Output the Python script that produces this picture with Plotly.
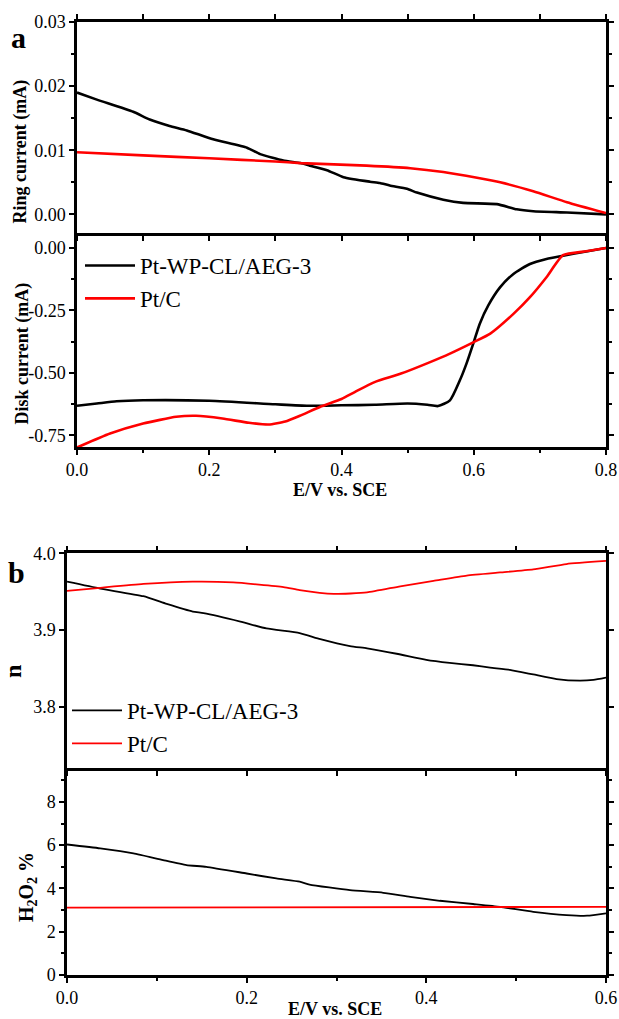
import plotly.graph_objects as go

# ---- panel a: ring current ----
ring_x_pt = [0, 0.03, 0.085, 0.11, 0.14, 0.166, 0.206, 0.257, 0.277, 0.312, 0.338, 0.352,
             0.378, 0.403, 0.443, 0.458, 0.473, 0.499, 0.514, 0.554, 0.584, 0.635, 0.665,
             0.69, 0.741, 0.8]
ring_y_pt = [0.0190, 0.0179, 0.0160, 0.0148, 0.0138, 0.0131, 0.0117, 0.0104, 0.0094, 0.0084,
             0.0080, 0.0076, 0.0069, 0.0058, 0.0051, 0.0049, 0.0045, 0.0040, 0.0034, 0.0023,
             0.0018, 0.0016, 0.0008, 0.0005, 0.0003, 0.0000]
ring_x_c = [0, 0.1, 0.2, 0.3, 0.338, 0.438, 0.504, 0.554, 0.605, 0.64, 0.69, 0.741, 0.8]
ring_y_c = [0.0097, 0.0092, 0.00875, 0.00825, 0.0080, 0.0076, 0.0072, 0.0066, 0.0057, 0.0050,
            0.0036, 0.0019, 0.0002]

# ---- panel a: disk current ----
disk_x_pt = [0, 0.03, 0.06, 0.1, 0.2, 0.3, 0.35, 0.4, 0.45, 0.5, 0.53, 0.546, 0.564, 0.579,
             0.589, 0.600, 0.609, 0.622, 0.640, 0.660, 0.685, 0.710, 0.735, 0.77, 0.8]
disk_y_pt = [-0.632, -0.623, -0.614, -0.610, -0.612, -0.626, -0.632, -0.630, -0.628, -0.623,
             -0.628, -0.633, -0.610, -0.530, -0.463, -0.377, -0.304, -0.230, -0.157, -0.104,
             -0.064, -0.044, -0.031, -0.014, 0.0]
disk_x_c = [0, 0.05, 0.1, 0.15, 0.18, 0.22, 0.26, 0.29, 0.315, 0.337, 0.368, 0.40, 0.42, 0.45,
            0.49, 0.534, 0.564, 0.600, 0.625, 0.660, 0.685, 0.710, 0.735, 0.77, 0.8]
disk_y_c = [-0.799, -0.743, -0.703, -0.676, -0.672, -0.683, -0.700, -0.707, -0.695, -0.672,
            -0.636, -0.605, -0.577, -0.537, -0.503, -0.457, -0.423, -0.377, -0.343, -0.264,
            -0.197, -0.117, -0.029, -0.013, 0.0]

# ---- panel b: electron transfer number ----
n_x_pt = [0, 0.037, 0.085, 0.111, 0.14, 0.152, 0.193, 0.222, 0.259, 0.282, 0.315, 0.334,
          0.367, 0.400, 0.426, 0.452, 0.471, 0.493, 0.519, 0.545, 0.571, 0.586, 0.6]
n_y_pt = [3.963, 3.954, 3.944, 3.934, 3.924, 3.922, 3.911, 3.902, 3.896, 3.888, 3.879, 3.876,
          3.869, 3.861, 3.857, 3.854, 3.851, 3.848, 3.842, 3.836, 3.834, 3.835, 3.838]
n_x_c = [0, 0.037, 0.085, 0.14, 0.185, 0.241, 0.259, 0.297, 0.334, 0.371, 0.408, 0.445,
         0.482, 0.519, 0.556, 0.6]
n_y_c = [3.951, 3.955, 3.960, 3.963, 3.962, 3.956, 3.952, 3.947, 3.949, 3.957, 3.964, 3.971,
         3.975, 3.979, 3.986, 3.990]

# ---- panel b: peroxide yield ----
h_x_pt = [0, 0.037, 0.074, 0.107, 0.133, 0.155, 0.2, 0.233, 0.259, 0.27, 0.315, 0.352, 0.382,
          0.415, 0.452, 0.482, 0.519, 0.556, 0.579, 0.6]
h_y_pt = [6.03, 5.85, 5.62, 5.31, 5.08, 5.0, 4.69, 4.46, 4.31, 4.18, 3.92, 3.80, 3.61, 3.43,
          3.28, 3.15, 2.92, 2.77, 2.74, 2.85]
h_x_c = [0, 0.2, 0.4, 0.6]
h_y_c = [3.11, 3.12, 3.13, 3.15]

# ---- tick positions / labels ----
tenths_a = [0, 0.1, 0.2, 0.3, 0.4, 0.5, 0.6, 0.7, 0.8]
tenths_b = [0, 0.1, 0.2, 0.3, 0.4, 0.5, 0.6]
ring_ticks = [0, 0.01, 0.02, 0.03]
ring_labels = ["0.00", "0.01", "0.02", "0.03"]
disk_ticks = [0, -0.25, -0.5, -0.75]
disk_labels = ["0.00", "-0.25", "-0.50", "-0.75"]
ea_ticks = [0, 0.2, 0.4, 0.6, 0.8]
ea_labels = ["0.0", "0.2", "0.4", "0.6", "0.8"]
n_ticks = [3.8, 3.9, 4.0]
n_labels = ["3.8", "3.9", "4.0"]
eb_ticks = [0, 0.2, 0.4, 0.6]
eb_labels = ["0.0", "0.2", "0.4", "0.6"]
h_ticks = [0, 2, 4, 6, 8]
h_labels = ["0", "2", "4", "6", "8"]

names = ["Pt-WP-CL/AEG-3", "Pt/C"]
colors = ["#000000", "#ff0000"]

W, H = 619, 1019
SERIF = "Liberation Serif"


def px(x):
    return x / W


def py(y):
    return 1 - y / H


fig = go.Figure()

fig.add_trace(go.Scatter(x=ring_x_pt, y=ring_y_pt, xaxis="x", yaxis="y", mode="lines",
                         line=dict(color=colors[0], width=2.6, shape="spline", smoothing=0.5),
                         showlegend=False))
fig.add_trace(go.Scatter(x=ring_x_c, y=ring_y_c, xaxis="x", yaxis="y", mode="lines",
                         line=dict(color=colors[1], width=2.6, shape="spline", smoothing=0.5),
                         showlegend=False))
fig.add_trace(go.Scatter(x=disk_x_pt, y=disk_y_pt, xaxis="x2", yaxis="y2", mode="lines",
                         name=names[0], legend="legend",
                         line=dict(color=colors[0], width=2.6, shape="spline", smoothing=0.6)))
fig.add_trace(go.Scatter(x=disk_x_c, y=disk_y_c, xaxis="x2", yaxis="y2", mode="lines",
                         name=names[1], legend="legend",
                         line=dict(color=colors[1], width=2.6, shape="spline", smoothing=0.5)))
fig.add_trace(go.Scatter(x=n_x_pt, y=n_y_pt, xaxis="x3", yaxis="y3", mode="lines",
                         name=names[0], legend="legend2",
                         line=dict(color=colors[0], width=1.8, shape="spline", smoothing=0.5)))
fig.add_trace(go.Scatter(x=n_x_c, y=n_y_c, xaxis="x3", yaxis="y3", mode="lines",
                         name=names[1], legend="legend2",
                         line=dict(color=colors[1], width=1.8, shape="spline", smoothing=0.5)))
fig.add_trace(go.Scatter(x=h_x_pt, y=h_y_pt, xaxis="x4", yaxis="y4", mode="lines",
                         showlegend=False,
                         line=dict(color=colors[0], width=1.8, shape="spline", smoothing=0.5)))
fig.add_trace(go.Scatter(x=h_x_c, y=h_y_c, xaxis="x4", yaxis="y4", mode="lines",
                         showlegend=False,
                         line=dict(color=colors[1], width=1.8)))

minor = dict(ticks="outside", ticklen=3, tickwidth=2, tickcolor="black", showgrid=False)


def axis(**kw):
    base = dict(showline=True, linecolor="black", linewidth=2.5, mirror="allticks",
                ticks="outside", ticklen=5, tickwidth=2, tickcolor="black",
                showgrid=False, zeroline=False, automargin=False,
                tickfont=dict(family=SERIF, size=18, color="black"))
    base.update(kw)
    return base


xa_dom = [px(77), px(606)]
xb_dom = [px(67), px(606)]

# the lower box of each panel shares its top edge with the upper box's bottom
# frame line, so its own x axis is not mirrored to the top
fig.update_layout(
    width=W, height=H,
    margin=dict(l=0, r=0, t=0, b=0, autoexpand=False),
    paper_bgcolor="white", plot_bgcolor="white",
    font=dict(family=SERIF, color="black"),
    xaxis=axis(domain=xa_dom, anchor="y", range=[0, 0.8], tickmode="array",
               tickvals=tenths_a, showticklabels=False),
    yaxis=axis(domain=[py(233), py(22)], anchor="x", range=[-0.0029, 0.03],
               tickvals=ring_ticks, ticktext=ring_labels,
               minor=dict(minor, tick0=0, dtick=0.005)),
    xaxis2=axis(domain=xa_dom, anchor="y2", range=[0, 0.8], mirror=False,
                tickvals=ea_ticks, ticktext=ea_labels,
                minor=dict(minor, tick0=0, dtick=0.1)),
    yaxis2=axis(domain=[py(447), py(235.5)], anchor="x2", range=[-0.797, 0.05],
                tickvals=disk_ticks, ticktext=disk_labels,
                minor=dict(minor, tick0=0, dtick=0.125)),
    xaxis3=axis(domain=xb_dom, anchor="y3", range=[0, 0.6], tickmode="array",
                tickvals=tenths_b, showticklabels=False),
    yaxis3=axis(domain=[py(768), py(553.3)], anchor="x3", range=[3.72, 4.0],
                tickvals=n_ticks, ticktext=n_labels),
    xaxis4=axis(domain=xb_dom, anchor="y4", range=[0, 0.6], mirror=False,
                tickvals=eb_ticks, ticktext=eb_labels,
                minor=dict(minor, tick0=0, dtick=0.1)),
    yaxis4=axis(domain=[py(975), py(770.5)], anchor="x4", range=[0, 9.45],
                tickvals=h_ticks, ticktext=h_labels,
                minor=dict(minor, tick0=0, dtick=1)),
    legend=dict(x=px(80), y=py(244), xanchor="left", yanchor="top",
                bgcolor="rgba(0,0,0,0)", borderwidth=0, itemwidth=50, tracegroupgap=0,
                font=dict(family=SERIF, size=23, color="black")),
    legend2=dict(x=px(67), y=py(689), xanchor="left", yanchor="top",
                 bgcolor="rgba(0,0,0,0)", borderwidth=0, itemwidth=50, tracegroupgap=0,
                 font=dict(family=SERIF, size=23, color="black")),
)

bold = dict(family=SERIF, size=18, color="black")
ann = [
    dict(text="<b>a</b>", x=px(18), y=py(38), font=dict(family=SERIF, size=30, color="black"),
         textangle=0),
    dict(text="<b>b</b>", x=px(16), y=py(572), font=dict(family=SERIF, size=30, color="black"),
         textangle=0),
    dict(text="<b>Ring current (mA)</b>", x=px(20.5), y=py(152), font=bold, textangle=-90),
    dict(text="<b>Disk current (mA)</b>", x=px(21.5), y=py(354), font=bold, textangle=-90),
    dict(text="<b>E/V vs. SCE</b>", x=px(340), y=py(490), font=bold, textangle=0),
    dict(text="<b>n</b>", x=px(13), y=py(672), font=dict(family=SERIF, size=24, color="black"),
         textangle=-90),
    dict(text="<b>H<sub>2</sub>O<sub>2</sub> %</b>", x=px(27), y=py(887),
         font=dict(family=SERIF, size=20, color="black"), textangle=-90),
    dict(text="<b>E/V vs. SCE</b>", x=px(335), y=py(1009), font=bold, textangle=0),
]
for a in ann:
    fig.add_annotation(xref="paper", yref="paper", xanchor="center", yanchor="middle",
                       showarrow=False, **a)

fig.write_html("out.html")
